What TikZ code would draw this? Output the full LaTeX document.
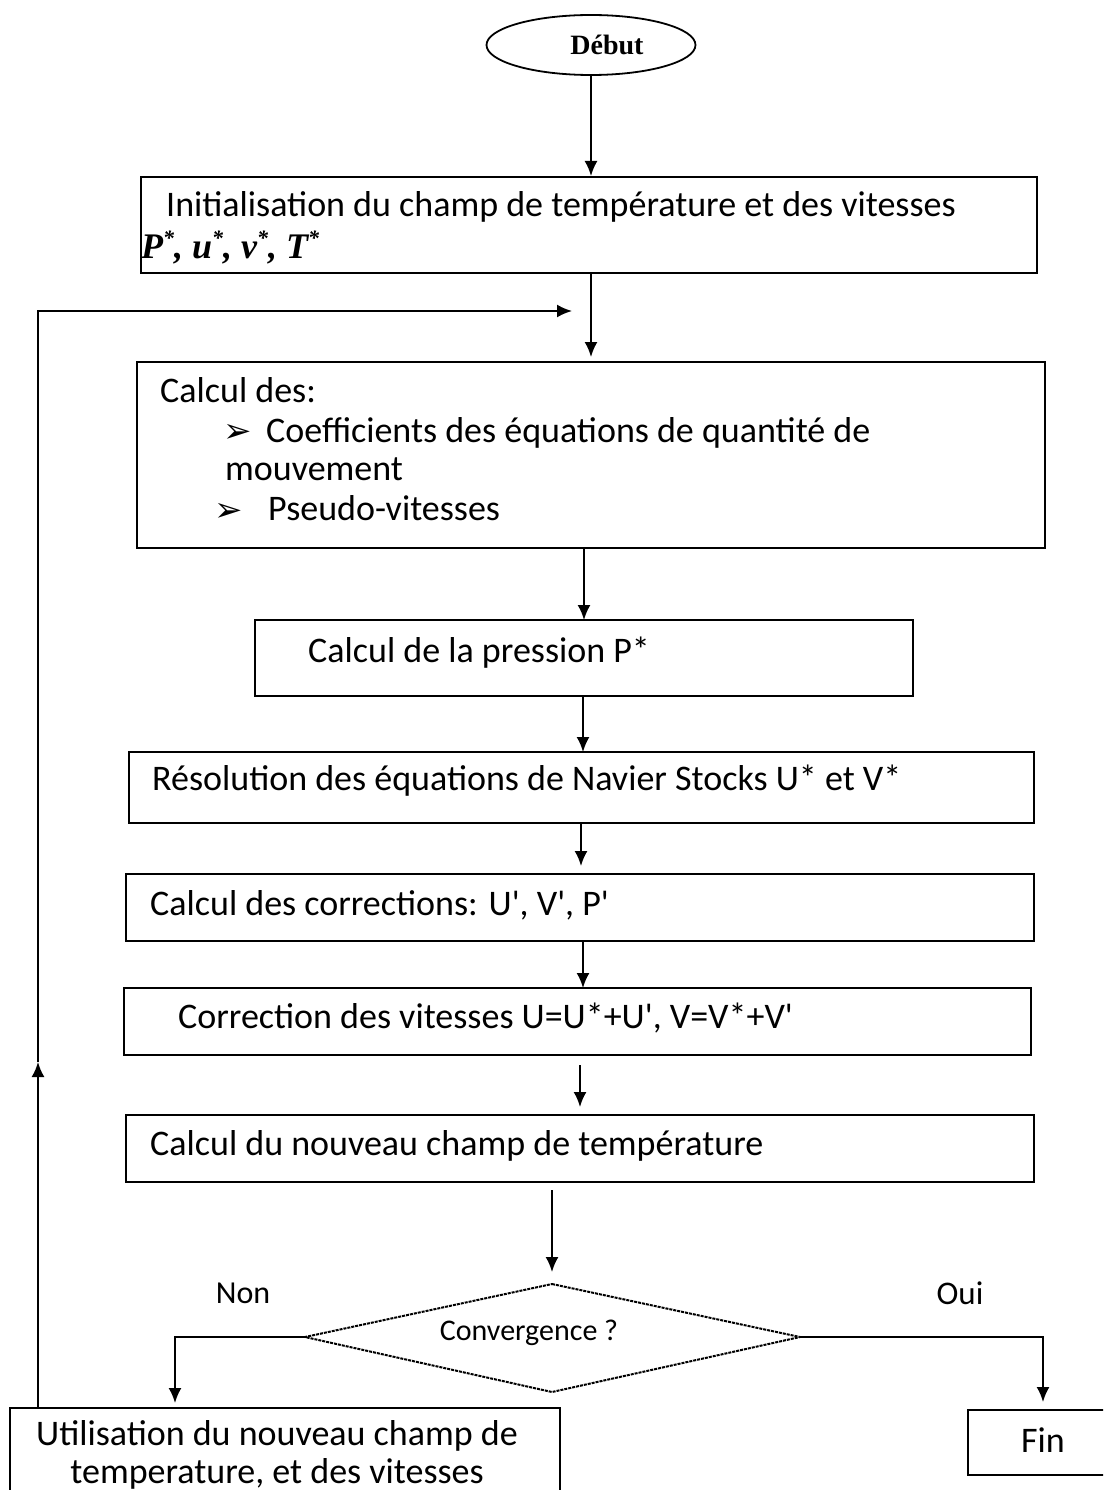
\documentclass[tikz,border=0pt]{standalone}
\usepackage{fontspec}
\setmainfont{Carlito}[Ligatures=TeXOff]
\newfontfamily\serifb{Liberation Serif}
\newfontfamily\dejavu{DejaVu Sans}
\newcommand\starsup{\raisebox{0.36em}{\fontsize{22}{22}\selectfont *}}
\usetikzlibrary{arrows.meta,shapes.geometric}
\begin{document}
\begin{tikzpicture}[x=1pt,y=-1pt,
  boxst/.style={draw,line width=2pt,rectangle,inner sep=0pt},
  txt/.style={anchor=base west,inner sep=0pt,font=\fontsize{36}{38}\selectfont},
  bul/.style={anchor=base west,inner sep=0pt,font=\dejavu\fontsize{34}{36}\selectfont},
  arr/.style={line width=2pt,-{Latex[length=15pt,width=13pt]}}]
\clip (0,0) rectangle (1103,1490);
\fill[white] (0,0) rectangle (1103,1490);
% Debut
\node[draw,ellipse,line width=1.8pt,minimum width=209pt,minimum height=60pt,inner sep=0pt] (deb) at (591,45) {};
\node[inner sep=0pt,font=\serifb\bfseries\fontsize{28}{32}\selectfont] (debt) at (607,45) {Début};
% box 1
\node[boxst,minimum width=896pt,minimum height=96pt] (b1) at (589,225) {};
\node[txt] (t1a) at (166,216) {Initialisation du champ de température et des vitesses};
\node[txt,font=\serifb\bfseries\itshape\fontsize{36}{38}\selectfont] (t1b) at (141,258) {P\starsup,\hspace{9pt}u\starsup,\hspace{9pt}v\starsup,\hspace{9pt}T\starsup};
% box 2
\node[boxst,minimum width=908pt,minimum height=186pt] (b2) at (591,455) {};
\node[txt] (t2a) at (160,402) {Calcul des:};
\node[bul] (t2b) at (223,442) {➢};
\node[txt] (t2c) at (266,442) {Coefficients des équations de quantité de};
\node[txt] (t2d) at (225,480) {mouvement};
\node[bul] (t2e) at (214,521) {➢};
\node[txt] (t2f) at (268,520) {Pseudo-vitesses};
% box 3
\node[boxst,minimum width=658pt,minimum height=76pt] (b3) at (584,658) {};
\node[txt] (t3) at (308,662) {Calcul de la pression P*};
% box 4
\node[boxst,minimum width=905pt,minimum height=71pt] (b4) at (581.5,787.5) {};
\node[txt] (t4) at (152,790) {Résolution des équations de Navier Stocks U* et V*};
% box 5
\node[boxst,minimum width=908pt,minimum height=67pt] (b5) at (580,907.5) {};
\node[txt] (t5) at (150,915) {Calcul des corrections: U', V', P'};
% box 6
\node[boxst,minimum width=907pt,minimum height=67pt] (b6) at (577.5,1021.5) {};
\node[txt] (t6) at (178,1028) {Correction des vitesses U=U*+U', V=V*+V'};
% box 7
\node[boxst,minimum width=908pt,minimum height=67pt] (b7) at (580,1148.5) {};
\node[txt] (t7) at (150,1155) {Calcul du nouveau champ de température};
% diamond
\coordinate (dt) at (552,1284);
\coordinate (dl) at (305,1337);
\coordinate (dr) at (800,1337);
\coordinate (db) at (552,1392);
\draw[line width=2pt,dash pattern=on 3pt off 1pt] (dt) -- (dr) -- (db) -- (dl) -- cycle;
\node[inner sep=0pt,font=\fontsize{30}{32}\selectfont] (conv) at (529,1333) {Convergence ?};
\node[inner sep=0pt,font=\fontsize{32}{34}\selectfont] (non) at (243,1293) {Non};
\node[inner sep=0pt,font=\fontsize{33}{35}\selectfont] (oui) at (960,1293) {Oui};
% bottom boxes
\node[boxst,minimum width=550pt,minimum height=100pt] (util) at (285,1458) {};
\node[inner sep=0pt,align=center,font=\fontsize{36}{38}\selectfont] (ut) at (277,1455) {Utilisation du nouveau champ de\\temperature, et des vitesses};
\node[boxst,minimum width=150pt,minimum height=65pt] (fin) at (1043,1442.5) {};
\node[inner sep=0pt,font=\fontsize{36}{38}\selectfont] (fint) at (1043,1440) {Fin};
% connectors
\draw[arr] (deb.south) -- (deb.south |- b1.north);
\draw[arr] (591,273) -- (591,357);
\draw[arr] (584,548) -- (584,620);
\draw[arr] (583,696) -- (583,752);
\draw[arr] (581,823) -- (581,866);
\draw[arr] (583,941) -- (583,988);
\draw[arr] (580,1065) -- (580,1107);
\draw[arr] (552,1190) -- (552,1272);
\coordinate (nl) at (175,1337);
\coordinate (nr) at (1043,1337);
\draw[arr] (dl) -- (nl) -- (175,1403);
\draw[arr] (dr) -- (nr) -- (1043,1402);
\coordinate (fb0) at (38,1408);
\coordinate (fb1) at (38,1062);
\coordinate (fb2) at (38,311);
\coordinate (fb3) at (572,311);
\draw[arr] (fb0) -- (fb1);
\draw[arr] (fb1) -- (fb2) -- (fb3);
\end{tikzpicture}
\end{document}
